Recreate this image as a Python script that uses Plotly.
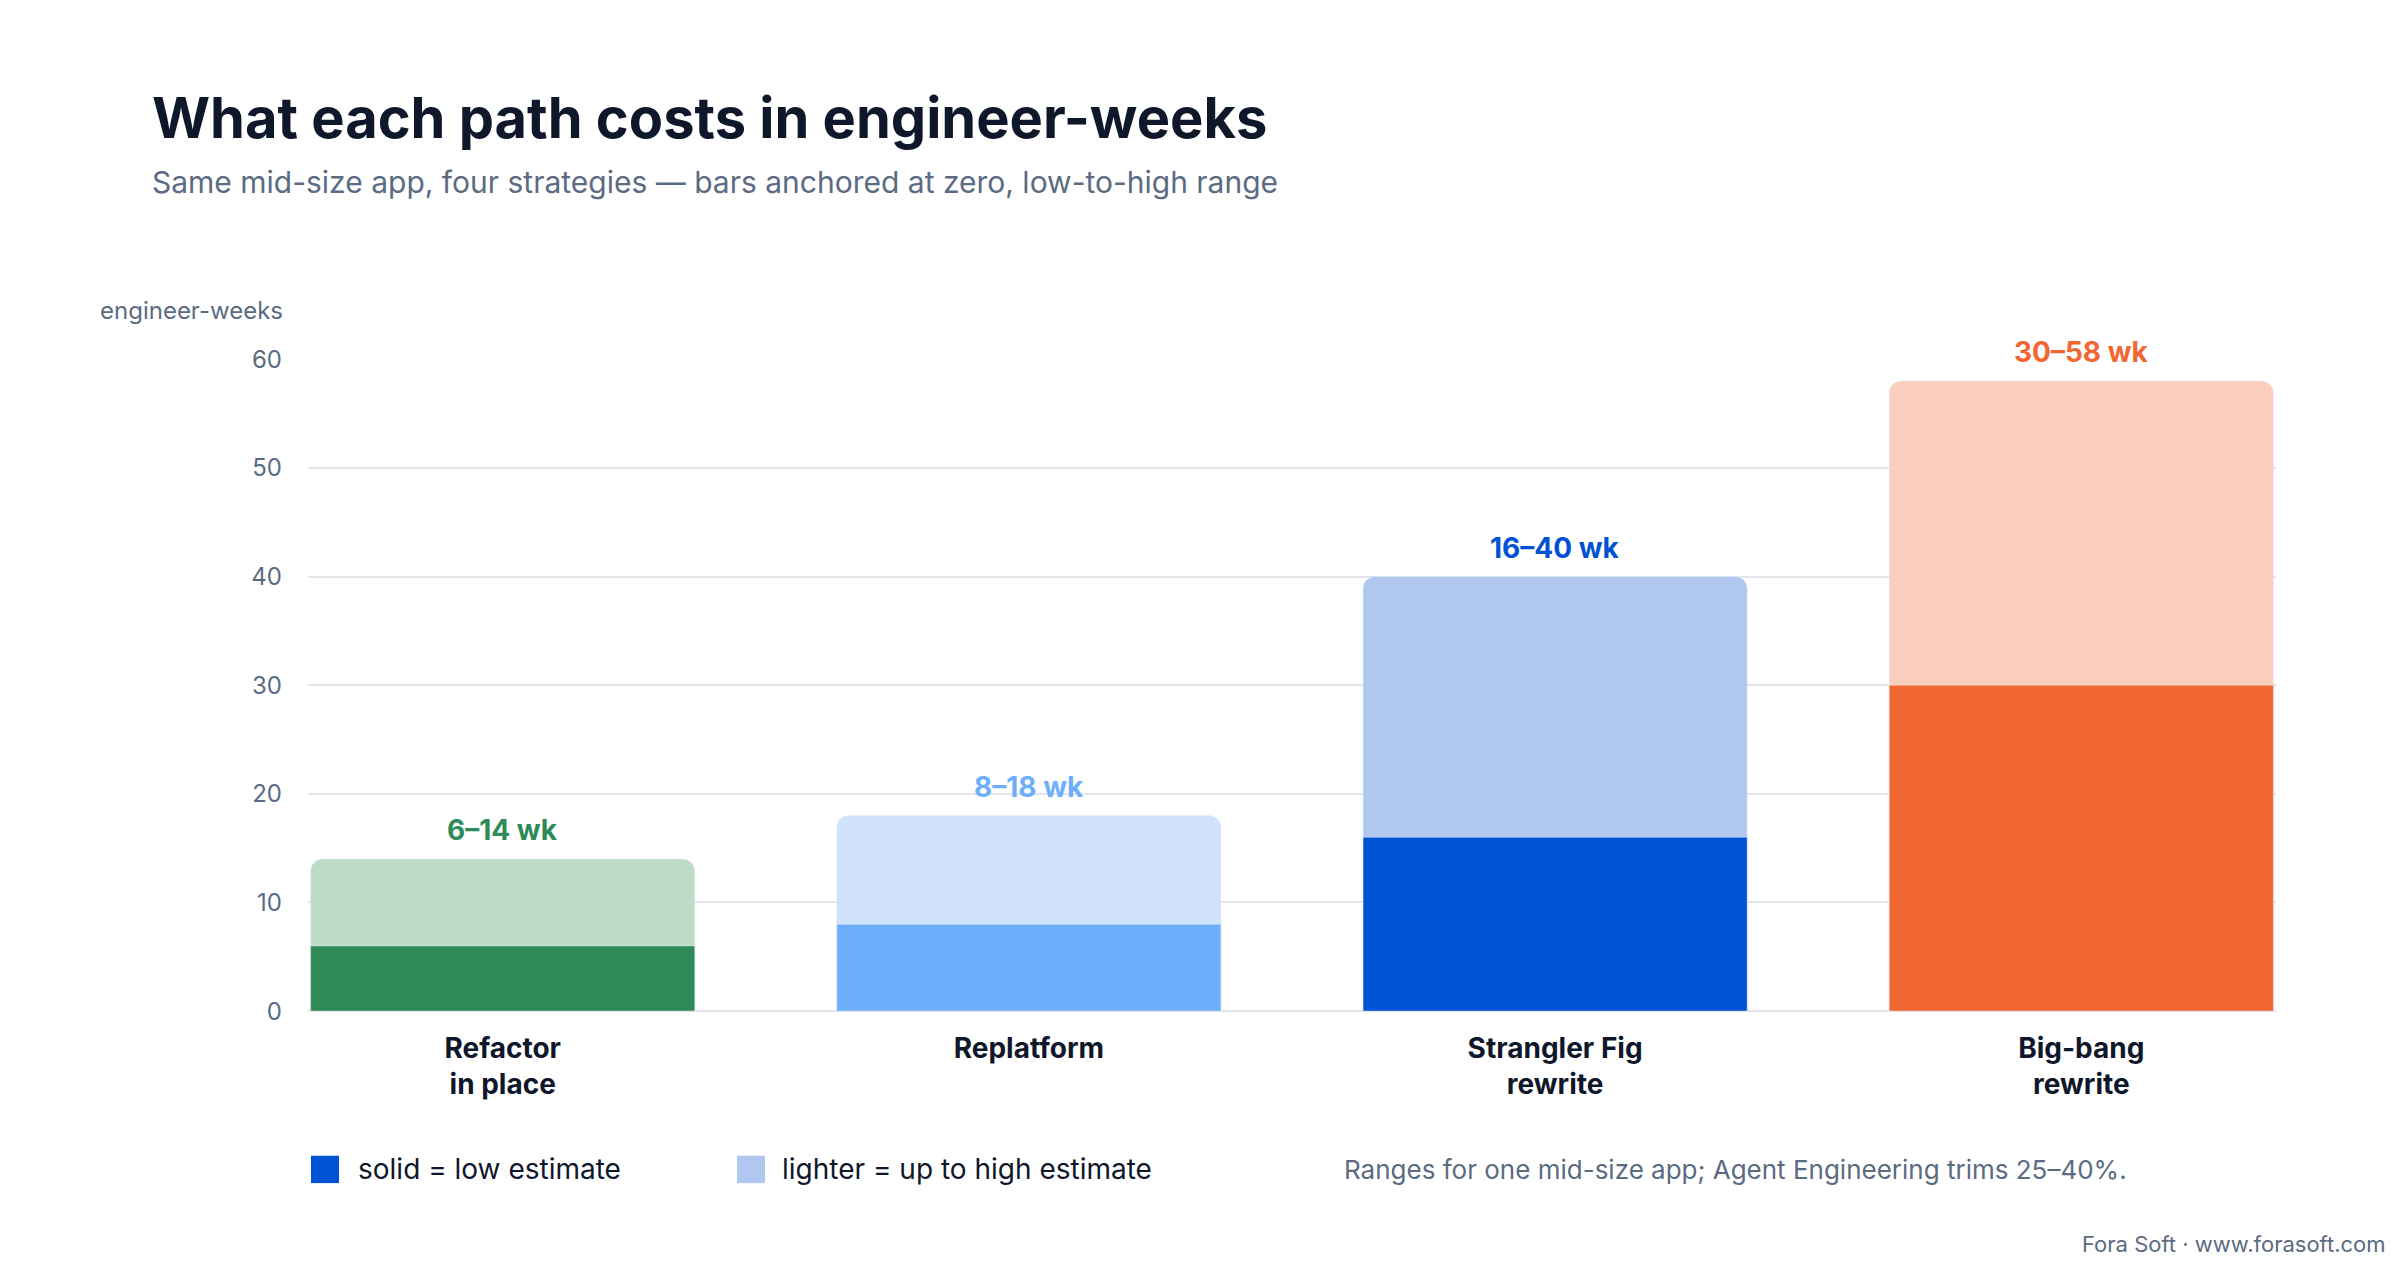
import plotly.graph_objects as go

categories = ["<b>Refactor</b><br><b>in place</b>", "<b>Replatform</b>",
              "<b>Strangler Fig</b><br><b>rewrite</b>", "<b>Big-bang</b><br><b>rewrite</b>"]
low = [6, 8, 16, 30]
high = [14, 18, 40, 58]
range_labels = ["6–14 wk", "8–18 wk", "16–40 wk", "30–58 wk"]
solid_colors = ["#2E8B57", "#6DAFFB", "#0052D4", "#F26632"]
light_colors = ["#BCDBC9", "#D0E3FB", "#B0C8F0", "#FACDBC"]
label_colors = ["#2E8B57", "#6DAFFB", "#0052D4", "#F26632"]

W, H = 2400, 1280
FONT = "Inter"
GRAY = "#5B6B82"
DARK = "#0F172A"


def py(px):
    return 1 - px / H


def pxx(px):
    return px / W


x = list(range(len(categories)))
fig = go.Figure()
fig.add_trace(go.Bar(x=x, y=high, marker_color=light_colors, width=0.73,
                     hoverinfo="skip"))
fig.add_trace(go.Bar(x=x, y=low, marker_color=solid_colors, width=0.73,
                     hoverinfo="skip"))

for i in x:
    fig.add_annotation(x=i, y=high[i], yshift=10, text=f"<b>{range_labels[i]}</b>",
                       showarrow=False, yanchor="bottom",
                       font=dict(size=28, color=label_colors[i], family=FONT))

texts = [
    dict(x=142, y=97, text="<b>What each path costs in engineer-weeks</b>", size=56,
         color=DARK, xa="left"),
    dict(x=142, y=163, text="Same mid-size app, four strategies — bars anchored at zero, low-to-high range",
         size=30, color=GRAY, xa="left"),
    dict(x=90, y=294, text="engineer-weeks", size=24, color=GRAY, xa="left"),
    dict(x=348, y=1173, text="solid = low estimate", size=28, color=DARK, xa="left"),
    dict(x=772, y=1173, text="lighter = up to high estimate", size=28, color=DARK, xa="left"),
    dict(x=1334, y=1173, text="Ranges for one mid-size app; Agent Engineering trims 25–40%.",
         size=26, color=GRAY, xa="left"),
    dict(x=2380, y=1249, text="Fora Soft · www.forasoft.com", size=22, color=GRAY, xa="right"),
]
for t in texts:
    fig.add_annotation(xref="paper", yref="paper", x=pxx(t["x"]), y=py(t["y"]),
                       text=t["text"], showarrow=False, xanchor=t["xa"], yanchor="middle",
                       font=dict(size=t["size"], color=t["color"], family=FONT))

for x0, c in [(303, "#0052D4"), (729, "#B0C8F0")]:
    fig.add_shape(type="rect", xref="paper", yref="paper",
                  x0=pxx(x0), x1=pxx(x0 + 28), y0=py(1159), y1=py(1187),
                  fillcolor=c, line_width=0)

fig.update_layout(
    width=W, height=H, margin=dict(l=0, r=0, t=0, b=0),
    barmode="overlay", barcornerradius=12, showlegend=False,
    plot_bgcolor="white", paper_bgcolor="white",
    font=dict(family=FONT, color=GRAY),
    xaxis=dict(domain=[pxx(300), pxx(2268)], range=[-0.37, 3.37],
               tickvals=x, ticktext=categories, showgrid=False, zeroline=False,
               tickfont=dict(size=28, color=DARK), ticks="", ticklabelstandoff=18),
    yaxis=dict(domain=[py(1011), py(344)], range=[0, 60], dtick=10,
               gridcolor="#E2E6EC", gridwidth=1.5, zeroline=True,
               zerolinecolor="#E2E6EC", tickfont=dict(size=24, color=GRAY),
               ticklabelstandoff=25),
)

fig.write_html("out.html")
